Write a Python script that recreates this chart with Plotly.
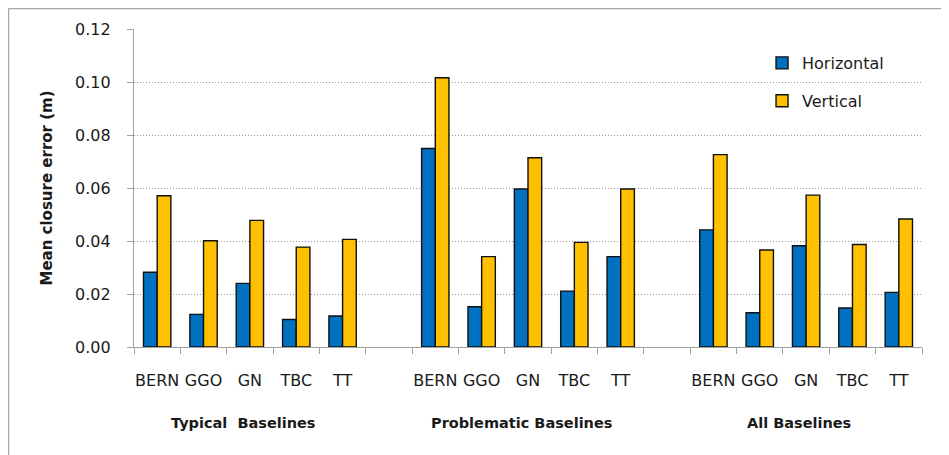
import plotly.graph_objects as go

groups = ["Typical  Baselines", "Problematic Baselines", "All Baselines"]
stations = ["BERN", "GGO", "GN", "TBC", "TT"]
horizontal = [
    [0.0282, 0.0123, 0.0240, 0.0104, 0.0117],
    [0.0749, 0.0152, 0.0596, 0.0211, 0.0341],
    [0.0442, 0.0129, 0.0382, 0.0147, 0.0206],
]
vertical = [
    [0.0571, 0.0401, 0.0478, 0.0377, 0.0406],
    [0.1016, 0.0341, 0.0714, 0.0395, 0.0596],
    [0.0726, 0.0366, 0.0573, 0.0387, 0.0483],
]
y_ticks = [0.00, 0.02, 0.04, 0.06, 0.08, 0.10, 0.12]

slot = len(stations) + 1
xs, hs, vs, labels = [], [], [], []
for g in range(len(groups)):
    for i, s in enumerate(stations):
        xs.append(g * slot + i)
        hs.append(horizontal[g][i])
        vs.append(vertical[g][i])
        labels.append(s)
n_slots = slot * len(groups) - 1

FONT = "DejaVu Sans"
fig = go.Figure()
fig.add_trace(go.Bar(x=xs, y=hs, name="Horizontal", legendgroup="h",
                     marker=dict(color="#0070C0", line=dict(color="#111111", width=1.4))))
fig.add_trace(go.Bar(x=xs, y=vs, name="Vertical", legendgroup="v",
                     marker=dict(color="#FFC000", line=dict(color="#111111", width=1.4))))

for g, name in enumerate(groups):
    fig.add_annotation(x=g * slot + 1.85, y=-0.239, xref="x", yref="paper", text="<b>%s</b>" % name,
                       showarrow=False, font=dict(family=FONT, size=14.5, color="#1a1a1a"),
                       xanchor="center", yanchor="middle")

# outer frame (left and top)
fig.add_shape(type="line", xref="paper", yref="paper", x0=-0.1593, x1=-0.1593, y0=1.0645, y1=-0.5,
              line=dict(color="#a6a6a6", width=1.5))
fig.add_shape(type="line", xref="paper", yref="paper", x0=-0.1593, x1=1.2, y0=1.0645, y1=1.0645,
              line=dict(color="#a6a6a6", width=1.5))

fig.update_layout(
    width=941, height=447,
    margin=dict(l=126, r=27, t=21, b=108),
    paper_bgcolor="white", plot_bgcolor="white",
    barmode="group", bargap=0.41, bargroupgap=0,
    font=dict(family=FONT, size=16, color="#1a1a1a"),
    legend=dict(x=0.797, y=0.9465, xanchor="left", yanchor="top", bgcolor="rgba(0,0,0,0)",
                font=dict(family=FONT, size=16), tracegroupgap=14, traceorder="grouped"),
    xaxis=dict(range=[-0.5, n_slots - 0.5], tickmode="array", tickvals=xs, ticktext=labels,
               ticks="", showgrid=False, showline=True, linecolor="#a0a0a0", linewidth=1.3,
               ticklabelstandoff=19, zeroline=False,
               minor=dict(tickmode="array", tickvals=[k - 0.5 for k in range(n_slots + 1)],
                          ticks="outside", ticklen=6, tickcolor="#a0a0a0", tickwidth=1.3, showgrid=False),
               tickfont=dict(family=FONT, size=16)),
    yaxis=dict(range=[0, 0.12], tickmode="array", tickvals=y_ticks,
               ticktext=["%.2f" % v for v in y_ticks],
               showgrid=True, gridcolor="#999999", griddash="1px,2px", gridwidth=1,
               showline=True, linecolor="#a0a0a0", linewidth=1.3, zeroline=False,
               ticks="outside", ticklen=6, tickcolor="#a0a0a0", tickwidth=1.3,
               ticklabelstandoff=13,
               tickfont=dict(family=FONT, size=16),
               title=dict(text="<b>Mean closure error (m)</b>", font=dict(family=FONT, size=15),
                          standoff=18)),
    showlegend=True,
)

fig.write_html("out.html")
